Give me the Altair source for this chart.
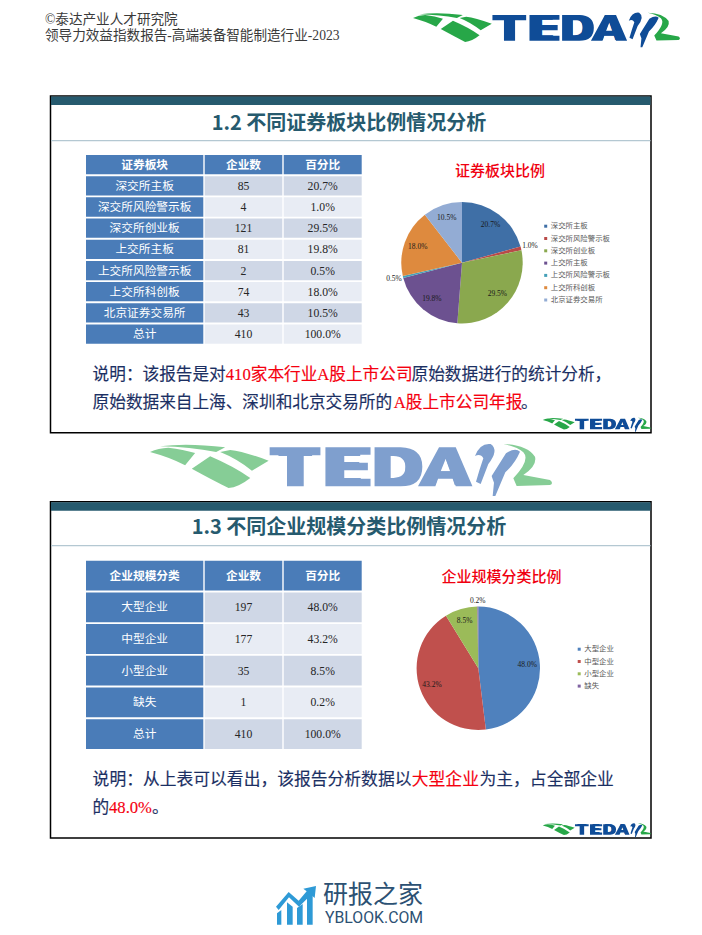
import re
import math
import altair as alt
import pandas as pd

# ---------- values ----------
board_names = ["深交所主板", "深交所风险警示板", "深交所创业板", "上交所主板", "上交所风险警示板", "上交所科创板", "北京证券交易所"]
board_counts = [85, 4, 121, 81, 2, 74, 43]
board_pcts = ["20.7%", "1.0%", "29.5%", "19.8%", "0.5%", "18.0%", "10.5%"]
board_colors = ["#3F6FA6", "#B94A48", "#8AA84E", "#6C5190", "#45A0B8", "#DE8A3E", "#93ACD4"]

size_names = ["大型企业", "中型企业", "小型企业", "缺失"]
size_counts = [197, 177, 35, 1]
size_pcts = ["48.0%", "43.2%", "8.5%", "0.2%"]
size_colors = ["#4F81BD", "#C0504D", "#9BBB59", "#8064A2"]

total_count = 410
total_pct = "100.0%"

TEAL = "#265A6E"
NAVY = "#1B2F63"
RED = "#F5000F"
SERIF = "Liberation Serif, Noto Sans CJK SC"
SANS = "Noto Sans CJK SC"
OFF = 8


def px(v):
    return v - OFF


one = alt.Data(values=[{}])


def txt(x, y, s, size, color, font=SERIF, weight="normal", align="left", baseline="middle", **kw):
    return alt.Chart(one).mark_text(
        text=s, fontSize=size, color=color, font=font, fontWeight=weight,
        align=align, baseline=baseline, **kw
    ).encode(x=alt.value(px(x)), y=alt.value(px(y)))


def box(x0, y0, x1, y1, **kw):
    return alt.Chart(one).mark_rect(**kw).encode(
        x=alt.value(px(x0)), x2=alt.value(px(x1)), y=alt.value(px(y0)), y2=alt.value(px(y1))
    )


def shape(x, y, path, width, color):
    return alt.Chart(one).mark_point(
        shape=path, size=width * width, filled=True, fill=color, opacity=1, strokeWidth=0
    ).encode(x=alt.value(px(x)), y=alt.value(px(y)))


# ---------- logo ----------
def to_logo(path, fx, fy):
    def sub(m):
        bx, by = fx(float(m.group(1))), fy(float(m.group(2)))
        return f"{bx / 201:.4f},{by / 201:.4f}"
    return re.sub(r"(-?[\d.]+),(-?[\d.]+)", sub, path)


f8x, f8y = (lambda v: v / 2.993 - 10), (lambda v: v / 3 - 5)
f11x, f11y = (lambda v: 310 + v / 3), (lambda v: -3 + v / 3)

GREEN_PATHS = [
    to_logo(p, f8x, f8y) for p in [
        "M60,25 Q140,14 255,28 L228,42 Q150,27 60,25 Z",
        "M30,42 Q55,30 85,29 Q130,34 165,45 L135,82 Q90,58 30,42 Z",
        "M240,42 L270,36 Q310,40 385,68 L335,98 Q290,62 240,42 Z",
        "M210,55 Q280,85 330,120 Q295,148 265,150 Q215,125 155,92 Z",
    ]
] + [to_logo("M130,12 Q200,14 225,50 Q232,78 190,105 L270,120 Q282,130 270,135 L170,138 L160,115 Q212,60 190,37 Q170,20 130,12 Z", f11x, f11y)]
BLUE_PATHS = [
    to_logo(p, f11x, f11y) for p in [
        "M45,48 Q60,8 92,12 Q118,30 85,72 L62,132 L48,125 Q58,90 70,55 Q62,40 45,48 Z",
        "M95,108 L138,40 Q165,22 180,35 Q165,70 136,97 L106,168 L98,168 L102,128 Q98,118 95,108 Z",
    ]
]
# extended letterforms of the logo, drawn over the real text letters
LETTER_PATHS = [
    to_logo(p, f8x, f8y) for p in [
        "M388,28 L540,28 L540,52 L490,52 L490,145 L440,145 L440,52 L388,52 Z",
        "M555,28 L690,28 L690,50 L605,50 L605,74 L682,74 L682,97 L605,97 L605,122 L690,122 L690,145 L555,145 Z",
        "M702,28 L780,28 Q845,30 845,86 Q845,145 780,145 L702,145 Z M750,52 L750,122 L775,122 Q795,122 795,86 Q795,55 775,52 Z",
        "M832,145 L895,28 L945,28 L995,145 L945,145 L937,122 L892,122 L884,145 Z M900,100 L930,100 L915,62 Z",
    ]
]
LETTERS = ["T", "E", "D", "A"]
LETTER_X = [145.2, 197.3, 247, 295]


def logo(left, top, scale, green, blue):
    layers = [shape(left, top, p, 402 * scale, green) for p in GREEN_PATHS]
    layers += [shape(left, top, p, 402 * scale, blue) for p in BLUE_PATHS]
    for ch, lx in zip(LETTERS, LETTER_X):
        layers.append(
            txt(left + lx * scale, top + 42 * scale, ch, 50 * scale, blue, font="DejaVu Sans",
                weight="bold", align="center", baseline="alphabetic")
        )
    layers += [shape(left, top, p, 402 * scale, blue) for p in LETTER_PATHS]
    return layers


# ---------- tables ----------
def table(first_head, names, counts, pcts, y0, y1, inner):
    rows = names + ["总计"]
    df = pd.DataFrame({
        "row": rows,
        "i": range(len(rows)),
        "n": [str(c) for c in counts] + [str(total_count)],
        "p": pcts + [total_pct],
    })
    scale = alt.Scale(type="band", domain=[first_head] + rows, range=[px(y0), px(y1)], paddingInner=inner, paddingOuter=0)
    Y = alt.Y("row:N", axis=None, scale=scale)
    head = pd.DataFrame({"row": [first_head]})
    HEAD_Y = alt.Y("row:N", axis=None, scale=scale)
    cols = [(86, 203.3), (204.7, 282.3), (283.7, 361.7)]
    blue = "#4A7CB8"
    layers = []
    for (a, b) in cols:
        layers.append(alt.Chart(head).mark_rect(color=blue).encode(x=alt.value(px(a)), x2=alt.value(px(b)), y=HEAD_Y))
    layers.append(alt.Chart(df).mark_rect(color=blue).encode(x=alt.value(px(cols[0][0])), x2=alt.value(px(cols[0][1])), y=Y))
    shade = alt.condition("datum.i % 2 == 0", alt.value("#CFD7E6"), alt.value("#E8ECF4"))
    for (a, b) in cols[1:]:
        layers.append(alt.Chart(df).mark_rect().encode(x=alt.value(px(a)), x2=alt.value(px(b)), y=Y, color=shade))
    centers = [(a + b) / 2 for a, b in cols]
    for cx, t in zip(centers, [first_head, "企业数", "百分比"]):
        layers.append(alt.Chart(head).mark_text(text=t, color="white", font=SANS, fontSize=11.7, fontWeight="bold").encode(x=alt.value(px(cx)), y=HEAD_Y))
    layers.append(alt.Chart(df).mark_text(color="white", font=SANS, fontSize=11.7).encode(x=alt.value(px(centers[0])), y=Y, text="row:N"))
    layers.append(alt.Chart(df).mark_text(color="#262626", font=SERIF, fontSize=11.7).encode(x=alt.value(px(centers[1])), y=Y, text="n:N"))
    layers.append(alt.Chart(df).mark_text(color="#262626", font=SERIF, fontSize=11.7).encode(x=alt.value(px(centers[2])), y=Y, text="p:N"))
    return alt.layer(*layers)


# ---------- pies ----------
def pie(names, counts, pcts, colors, cx, cy, r, legend_x, legend_y, outside, r_in, r_out):
    df = pd.DataFrame({"name": names, "count": counts, "pct": pcts, "i": range(len(names))})
    df["mid"] = df["count"].cumsum() - df["count"] / 2
    theta_scale = alt.Scale(domain=[0, total_count], range=[0, 2 * math.pi])
    arc = alt.Chart(df).mark_arc(radius=r).encode(
        x=alt.value(px(cx)), y=alt.value(px(cy)),
        theta=alt.Theta("count:Q", stack=True, scale=theta_scale),
        order=alt.Order("i:Q"),
        color=alt.Color("name:N", scale=alt.Scale(domain=names, range=colors), sort=names, legend=alt.Legend(
            orient="none", legendX=px(legend_x), legendY=px(legend_y), title=None, symbolType="square",
            symbolSize=9, symbolStrokeWidth=0, labelFont=SANS, labelFontSize=7.4, labelColor="#595959", labelLimit=200,
            rowPadding=3.3, labelOffset=1.4, padding=0, offset=0,
        )),
    )
    inner = df[~df["name"].isin(outside)]
    outer = df[df["name"].isin(outside)]
    def lab(d, rad):
        return alt.Chart(d).mark_text(radius=rad, font="Liberation Serif", fontSize=7.5, color="#1a1a1a").encode(
            x=alt.value(px(cx)), y=alt.value(px(cy)),
            theta=alt.Theta("mid:Q", scale=theta_scale), text="pct:N",
        )
    return [arc, lab(inner, r_in), lab(outer, r_out)]


layers = []

# top header
layers.append(txt(45, 19.8, "©泰达产业人才研究院", 13.6, "#3A3A3A"))
layers.append(txt(45, 36, "领导力效益指数报告-高端装备智能制造行业-2023", 13.6, "#3A3A3A"))
layers += logo(413, 12, 0.664, "#27A748", "#0F4C97")

# panels
for top, bottom, div, title, ty in [
    (96, 432.7, 140.7, "1.2 不同证券板块比例情况分析", 123.5),
    (501.7, 838, 545.7, "1.3 不同企业规模分类比例情况分析", 528),
]:
    layers.append(box(50.5, top, 651, bottom, fill="white", stroke="#000000", strokeWidth=1.5))
    layers.append(box(51, top + 0.5, 650.5, top + 9, fill=TEAL))
    layers.append(box(51, div - 0.6, 650.5, div + 0.6, fill="#B4C8D2"))
    layers.append(txt(349, ty, title, 20, TEAL, font=SANS, weight="bold", align="center"))

layers.append(table("证券板块", board_names, board_counts, board_pcts, 155, 343.7, 0.09))
layers.append(table("企业规模分类", size_names, size_counts, size_pcts, 560.7, 749, 0.06))

# chart titles
layers.append(txt(500, 170.7, "证券板块比例", 15, "#F00010", font=SANS, weight=500, align="center"))
layers.append(txt(501.6, 577.3, "企业规模分类比例", 15, "#F00010", font=SANS, weight=500, align="center"))

pie1 = pie(board_names, board_counts, board_pcts, board_colors, 462, 262.7, 60.7, 542, 222.5,
           ["深交所风险警示板", "上交所风险警示板"], 47, 70)
pie2 = pie(size_names, size_counts, size_pcts, size_colors, 478.3, 668.3, 61.7, 575.5, 645.5,
           ["缺失"], 49, 67.6)
layers += pie1 + pie2

# note text
for x, y, s, c, z in [
    (92.6, 375, "说明：该报告是对", NAVY, 16.65),
    (225.8, 375, "410家本行业A股上市公司", RED, 16.65),
    (411.5, 375, "原始数据进行的统计分析，", NAVY, 16.65),
    (92.6, 402.7, "原始数据来自上海、深圳和北京交易所的", NAVY, 16.65),
    (393.8, 402.7, "A股上市公司年报", RED, 16.65),
    (521, 402.7, "。", NAVY, 16.65),
    (92.6, 780, "说明：从上表可以看出，该报告分析数据以", NAVY, 16.8),
    (411.8, 780, "大型企业", RED, 16.8),
    (479.5, 780, "为主，占全部企业", NAVY, 16.8),
    (92.6, 808, "的", NAVY, 16.65),
    (109, 808, "48.0%", RED, 16.65),
    (152, 808, "。", NAVY, 16.65),
]:
    layers.append(txt(x, y, s, z, c, stroke=c, strokeWidth=0.15))

# logos
layers += logo(150, 443, 1.0, "#86CD96", "#7F9FCE")
layers += logo(542.8, 417.5, 0.269, "#27A748", "#0F4C97")
layers += logo(542.8, 823, 0.269, "#27A748", "#0F4C97")

# watermark
ICON = "#2E9AD6"
for p in [
    "M15,88 L28,78 L28,122 L15,122 Z",
    "M45,55 L62,68 L62,122 L45,122 Z",
    "M75,72 L92,60 L92,122 L75,122 Z",
    "M105,40 L122,22 L122,122 L105,122 Z",
    "M12,68 L50,24 L80,50 L104,22 L94,14 L132,6 L128,42 L117,32 L81,68 L51,40 L20,78 Z",
]:
    norm = re.sub(r"(-?[\d.]+),(-?[\d.]+)", lambda m: f"{float(m.group(1)) / 69:.4f},{float(m.group(2)) / 69:.4f}", p)
    layers.append(shape(272, 884, norm, 46, ICON))
layers.append(txt(323, 895, "研报之家", 25, "#2C5173", font=SANS))
layers.append(txt(325, 917.5, "YBLOOK.COM", 15.8, "#2C5173", font="Roboto"))

chart = alt.layer(*layers).resolve_scale(
    y="independent", theta="independent", color="independent"
).properties(
    width=686, height=919, padding=0,
    autosize=alt.AutoSizeParams(type="none"),
    background="white",
).configure_view(stroke=None)

chart.save("out.html", embed_options={"renderer": "svg", "actions": False})
